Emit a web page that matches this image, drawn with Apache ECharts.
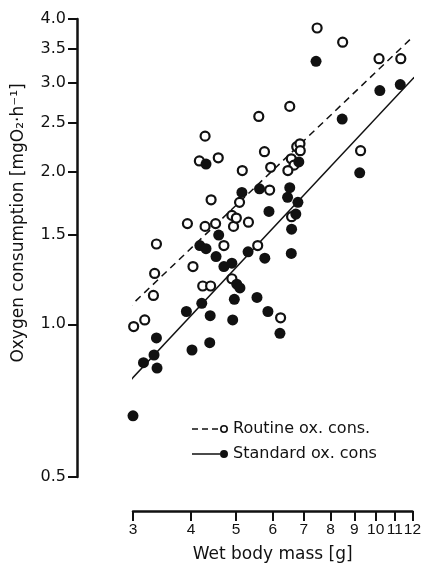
<!DOCTYPE html>
<html>
<head>
<meta charset="utf-8">
<script src="https://cdn.jsdelivr.net/npm/echarts@6/dist/echarts.min.js"></script>
<style>
  html, body { margin: 0; background: #fff; }
  #chart { width: 424px; height: 573px; }
</style>
</head>
<body>
<div id="chart"></div>
<script>
// tick labels
const xTicks = [3, 4, 5, 6, 7, 8, 9, 10, 11, 12];
const yTicks = [0.5, 1.0, 1.5, 2.0, 2.5, 3.0, 3.5, 4.0];

// routine oxygen consumption (open circles)
const routineMass = [3.01, 3.18, 3.32, 3.34, 3.37, 3.93, 4.04, 4.24, 4.41, 4.29, 4.52, 4.71, 4.94, 4.90,
  5.01, 5.32, 5.09, 4.42, 5.16, 4.17, 4.58, 4.29, 5.60, 5.76, 5.57, 4.90, 5.94, 5.91, 6.59, 6.24,
  6.53, 6.76, 6.87, 6.88, 6.58, 6.67, 6.47, 7.48, 8.49, 10.17, 11.33, 9.28];
const routineOx = [0.99, 1.02, 1.14, 1.26, 1.44, 1.58, 1.30, 1.19, 1.19, 1.56, 1.58, 1.43, 1.56, 1.64,
  1.62, 1.59, 1.74, 1.76, 2.01, 2.10, 2.13, 2.35, 2.57, 2.19, 1.43, 1.23, 2.04, 1.84, 1.63, 1.03,
  2.69, 2.24, 2.27, 2.20, 2.12, 2.06, 2.01, 3.84, 3.60, 3.34, 3.34, 2.20];

// standard oxygen consumption (filled circles)
const standardMass = [3.00, 3.16, 3.33, 3.38, 3.37, 3.91, 4.02, 4.22, 4.40, 4.39, 4.92, 4.96, 5.02, 5.10,
  5.55, 5.86, 6.22, 4.18, 4.31, 4.53, 4.59, 4.71, 4.90, 5.31, 5.77, 6.58, 6.59, 5.89, 6.73, 6.80,
  6.46, 6.53, 6.83, 5.62, 5.15, 4.31, 7.44, 8.47, 10.21, 11.30, 9.24];
const standardOx = [0.66, 0.84, 0.87, 0.82, 0.94, 1.06, 0.89, 1.10, 1.04, 0.92, 1.02, 1.12, 1.20, 1.18,
  1.13, 1.06, 0.96, 1.43, 1.41, 1.36, 1.50, 1.30, 1.32, 1.39, 1.35, 1.38, 1.54, 1.67, 1.65, 1.74,
  1.78, 1.86, 2.09, 1.85, 1.82, 2.07, 3.30, 2.54, 2.89, 2.97, 1.99];

// regression line end points [mass, oxygen]
const routineFit = [[2.91, 1.07], [12.07, 3.70]];
const standardFit = [[2.94, 0.77], [12.11, 3.07]];

const ink = '#111';
const font = 'DejaVu Sans';
const zip = (a, b) => a.map((v, i) => [v, b[i]]);

const chart = echarts.init(document.getElementById('chart'));
chart.setOption({
  animation: false,
  backgroundColor: '#fff',
  textStyle: { fontFamily: font, color: ink },
  grid: { left: 133, right: 11, top: 19, bottom: 96, containLabel: false },
  legend: {
    orient: 'vertical',
    left: 187,
    top: 416,
    itemWidth: 36,
    itemHeight: 8,
    itemGap: 9,
    textStyle: { fontFamily: font, fontSize: 16, color: ink },
    data: [
      {
        name: 'Routine ox. cons.',
        icon: 'path://M0,4h6v1.6h-6z M10,4h6v1.6h-6z M20,4h6v1.6h-6z M28,4.8a4,4 0 1,0 8,0a4,4 0 1,0 -8,0z M29.6,4.8a2.4,2.4 0 1,1 4.8,0a2.4,2.4 0 1,1 -4.8,0z',
        itemStyle: { color: ink, borderWidth: 0, opacity: 1 }
      },
      {
        name: 'Standard ox. cons',
        icon: 'path://M0,4h28v1.6h-28z M28,4.8a4,4 0 1,0 8,0a4,4 0 1,0 -8,0z',
        itemStyle: { color: ink, borderWidth: 0, opacity: 1 }
      }
    ]
  },
  xAxis: {
    type: 'log',
    logBase: 10,
    min: 3,
    max: 12,
    offset: 34,
    name: 'Wet body mass [g]',
    nameLocation: 'middle',
    nameGap: 35,
    nameTextStyle: { fontFamily: font, fontSize: 17, color: ink },
    axisLine: { show: true, lineStyle: { color: ink, width: 2.5 } },
    axisTick: { show: true, inside: false, length: 10, lineStyle: { color: ink, width: 2 }, customValues: xTicks },
    axisLabel: {
      color: ink, fontSize: 15.5, fontFamily: 'Liberation Sans', margin: 11, customValues: xTicks,
      showMinLabel: true, showMaxLabel: true, hideOverlap: false,
      formatter: v => String(Math.round(v))
    },
    splitLine: { show: false },
    minorTick: { show: false }
  },
  yAxis: {
    type: 'log',
    logBase: 10,
    min: 0.5,
    max: 4,
    offset: 56,
    name: 'Oxygen consumption [mgO\u2082\u00b7h\u207b\u00b9]',
    nameLocation: 'middle',
    nameGap: 50,
    nameRotate: 90,
    nameTextStyle: { fontFamily: font, fontSize: 17, color: ink, padding: [0, 0, 0, 50] },
    axisLine: { show: true, lineStyle: { color: ink, width: 2.5 } },
    axisTick: { show: true, inside: false, length: 9, lineStyle: { color: ink, width: 2 }, customValues: yTicks },
    axisLabel: {
      color: ink, fontSize: 16, margin: 11, customValues: yTicks,
      showMinLabel: true, showMaxLabel: true,
      formatter: v => v.toFixed(1)
    },
    splitLine: { show: false },
    minorTick: { show: false }
  },
  series: [
    {
      name: 'routine fit',
      type: 'line',
      data: routineFit,
      clip: false,
      symbol: 'none',
      silent: true,
      lineStyle: { color: ink, width: 1.5, type: [7, 5] }
    },
    {
      name: 'standard fit',
      type: 'line',
      data: standardFit,
      clip: false,
      symbol: 'none',
      silent: true,
      lineStyle: { color: ink, width: 1.5, type: 'solid' }
    },
    {
      name: 'Routine ox. cons.',
      type: 'scatter',
      data: zip(routineMass, routineOx),
      symbol: 'circle',
      symbolSize: 9,
      itemStyle: { color: '#fff', borderColor: ink, borderWidth: 2.2, opacity: 1 },
      z: 3
    },
    {
      name: 'Standard ox. cons',
      type: 'scatter',
      data: zip(standardMass, standardOx),
      symbol: 'circle',
      symbolSize: 11,
      itemStyle: { color: ink, opacity: 1 },
      z: 4
    }
  ]
});
</script>
</body>
</html>
